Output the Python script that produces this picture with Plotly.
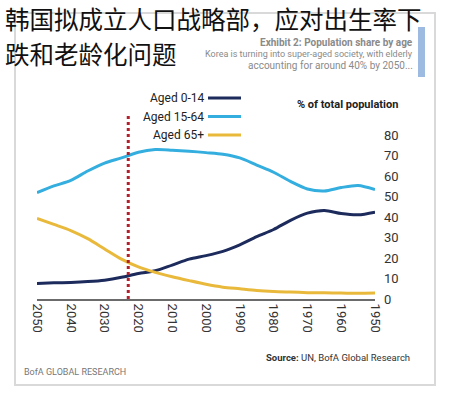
import plotly.graph_objects as go

years = [1950, 1955, 1960, 1965, 1970, 1975, 1980, 1985, 1990, 1995, 2000,
         2005, 2010, 2015, 2020, 2025, 2030, 2035, 2040, 2045, 2050]
aged_0_14 = [42.5, 41.2, 41.8, 43.3, 42.0, 38.5, 34.0, 30.5, 26.5, 23.3, 21.2,
             19.5, 16.6, 13.8, 12.5, 10.6, 9.2, 8.5, 8.1, 7.9, 7.6]
aged_15_64 = [53.5, 55.5, 54.5, 52.8, 53.8, 57.5, 62.0, 65.5, 69.0, 70.8, 71.6,
              72.3, 72.8, 73.1, 71.8, 69.0, 66.5, 62.6, 58.0, 55.3, 52.0]
aged_65 = [2.9, 2.8, 2.9, 3.0, 3.1, 3.4, 3.7, 4.2, 5.0, 5.8, 7.2,
           9.0, 10.9, 13.0, 15.7, 19.5, 24.5, 29.5, 33.5, 36.5, 39.4]
series_names = ["Aged 0-14", "Aged 15-64", "Aged 65+"]
series_colors = ["#1c2b5c", "#34aede", "#e9b93c"]
x_ticks = list(range(1950, 2051, 10))
y_ticks = [0, 10, 20, 30, 40, 50, 60, 70, 80]
marker_year = 2023

title_lines = ["韩国拟成立人口战略部，应对出生率下", "跌和老龄化问题"]

fig = go.Figure()
for name, vals, col in zip(series_names, [aged_0_14, aged_15_64, aged_65], series_colors):
    fig.add_trace(go.Scatter(x=years, y=vals, mode="lines", name=name,
                             line=dict(color=col, width=3, shape="spline", smoothing=0.8),
                             showlegend=False))

W, H = 450, 400
L, R = 37, 375      # plot-area x extent (page pixels)
T, B = 115, 299     # plot-area y extent (page pixels)
fig.update_layout(
    width=W, height=H, autosize=False,
    margin=dict(l=L, r=W - R, t=T, b=H - B),
    paper_bgcolor="white", plot_bgcolor="white",
    font=dict(family="Roboto, Liberation Sans, sans-serif", color="#333"),
    xaxis=dict(range=[2050, 1950], tickvals=x_ticks, tickangle=90,
               showgrid=False, zeroline=False, showline=True,
               linecolor="#6b6b6b", linewidth=2, ticks="",
               tickfont=dict(size=13, color="#333")),
    yaxis=dict(range=[0, 90], tickvals=y_ticks, side="right",
               showgrid=False, zeroline=False, showline=False, ticks="",
               tickfont=dict(size=13, color="#333"), ticklabelstandoff=8),
)


def px(x):
    return (x - L) / (R - L)


def py(y):
    return (B - y) / (B - T)


shapes = []
# card
shapes.append(dict(type="rect", xref="paper", yref="paper",
                   x0=px(15), x1=px(435), y0=py(385), y1=py(13),
                   line=dict(color="#d9d9d9", width=2), fillcolor="rgba(0,0,0,0)", layer="below"))
# blue bar
shapes.append(dict(type="rect", xref="paper", yref="paper",
                   x0=px(418), x1=px(425), y0=py(77), y1=py(27),
                   line=dict(width=0), fillcolor="#9dbbe0"))
# red dotted line
shapes.append(dict(type="line", xref="x", yref="y", x0=marker_year, x1=marker_year,
                   y0=0, y1=90, line=dict(color="#b3202c", width=3, dash="dot")))
# legend lines
leg_y = [98, 116.5, 135]
for yy, col in zip(leg_y, series_colors):
    shapes.append(dict(type="line", xref="paper", yref="paper",
                       x0=px(208), x1=px(241), y0=py(yy), y1=py(yy),
                       line=dict(color=col, width=3)))
fig.update_layout(shapes=shapes)

ann = []
for yy, name in zip(leg_y, series_names):
    ann.append(dict(x=px(206), y=py(yy), xref="paper", yref="paper", text=name,
                    showarrow=False, xanchor="right", yanchor="middle",
                    font=dict(size=12, color="#222")))
ann.append(dict(x=px(400), y=py(104), xref="paper", yref="paper",
                text="<b>% of total population</b>", showarrow=False,
                xanchor="right", yanchor="middle", font=dict(size=11, color="#222")))
ann.append(dict(x=px(415), y=py(42.5), xref="paper", yref="paper",
                text="<b>Exhibit 2: Population share by age</b>", showarrow=False,
                xanchor="right", yanchor="middle", font=dict(size=10, color="#8a8a8a")))
ann.append(dict(x=px(415), y=py(54), xref="paper", yref="paper",
                text="Korea is turning into super-aged society, with elderly",
                showarrow=False, xanchor="right", yanchor="middle",
                font=dict(size=9, color="#8a8a8a")))
ann.append(dict(x=px(415), y=py(65.5), xref="paper", yref="paper",
                text="accounting for around 40% by 2050...", showarrow=False,
                xanchor="right", yanchor="middle", font=dict(size=10, color="#8a8a8a")))
ann.append(dict(x=px(412), y=py(357), xref="paper", yref="paper",
                text="<b>Source:</b> UN, BofA Global Research", showarrow=False,
                xanchor="right", yanchor="middle", font=dict(size=9.5, color="#333")))
ann.append(dict(x=px(22), y=py(372), xref="paper", yref="paper",
                text="BofA GLOBAL RESEARCH", showarrow=False,
                xanchor="left", yanchor="middle", font=dict(size=9, color="#777")))
# Chinese title
ann.append(dict(x=px(4), y=py(19), xref="paper", yref="paper", text=title_lines[0],
                showarrow=False, xanchor="left", yanchor="middle", borderpad=0,
                font=dict(size=24.5, color="#111", family="Noto Sans CJK SC")))
ann.append(dict(x=px(4), y=py(53), xref="paper", yref="paper", text=title_lines[1],
                showarrow=False, xanchor="left", yanchor="middle", borderpad=0,
                font=dict(size=24.5, color="#111", family="Noto Sans CJK SC")))
fig.update_layout(annotations=ann)

fig.write_html("out.html", config={"displayModeBar": False},
               post_script="document.body.style.margin='0';")
